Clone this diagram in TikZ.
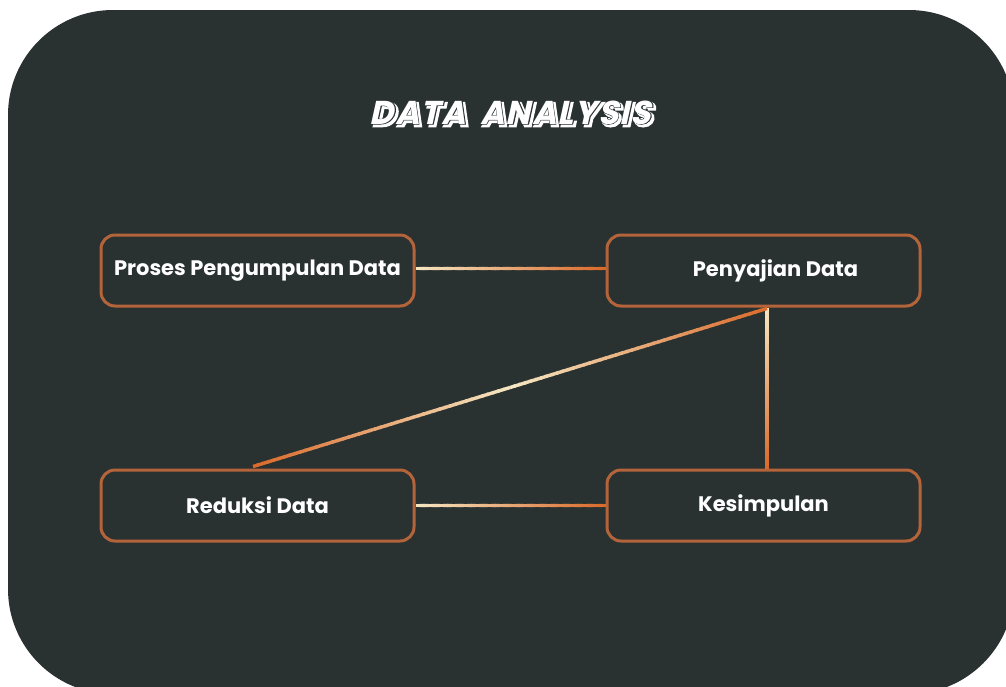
\documentclass[tikz,border=0pt]{standalone}
\usepackage{fontspec}
\setmainfont{Poppins}
\newfontfamily\titlefont[FakeSlant=0.22,LetterSpace=4]{Poppins}
\newfontfamily\titlerim[FakeSlant=0.22,FakeBold=7,LetterSpace=4]{Poppins}
\newfontfamily\titleline[FakeSlant=0.22,FakeBold=2.5,LetterSpace=4]{Poppins}
\usepackage{xcolor}
\usetikzlibrary{positioning,calc}
\definecolor{bgdark}{HTML}{2A3131}
\definecolor{boxline}{HTML}{B3643A}
\definecolor{lncream}{HTML}{F6E8C4}
\definecolor{lnorange}{HTML}{DA6A2A}
\tikzset{stage/.style={draw=boxline,line width=3pt,rounded corners=14pt,fill=bgdark,
    minimum width=313pt,minimum height=71pt,text=white,font=\bfseries\fontsize{21}{24}\selectfont},
  titletext/.style={font=\bfseries\fontsize{33}{38}\selectfont,inner sep=0pt}}
\newcommand{\fadeline}[4]{%
  \foreach \k [evaluate=\k as \t using (\k-1)/48, evaluate=\k as \u using (\k+0.3)/48,
      evaluate=\k as \p using int(100*\k/48)] in {1,...,48}
    \draw[line width=3.4pt,color=#4!\p!#3] ($(#1)!\t!(#2)$) -- ($(#1)!{min(\u,1)}!(#2)$);}

\begin{document}
\begin{tikzpicture}[x=1pt,y=-1pt]
\useasboundingbox (0,0) rectangle (1006,686);
    \fill[white] (0,0) rectangle (1006,686);
    \fill[bgdark,rounded corners=105pt] (8,10) rectangle (1014,694);

    % title: white rim + drop, dark edge, white face
    \node[titletext,text=white] (trim) at (512.5,114.5) {\titlerim DATA\hspace{6pt} ANALYSIS};
    \node[titletext,text=bgdark] (tedge) at (510.5,112.5) {\titleline DATA\hspace{6pt} ANALYSIS};
    \node[titletext,text=white] (title) at (510.5,112.5) {\titlefont DATA\hspace{6pt} ANALYSIS};

    % stages
    \node[stage] (collect) at (257.5,270.5) {Proses Pengumpulan Data};
    \node[stage] (present) at (763.5,270.5) {\hspace*{24pt}Penyajian Data};
    \node[stage] (reduce) at (257.5,505.5) {Reduksi Data};
    \node[stage] (conclude) at (763.5,505.5) {Kesimpulan};

    \coordinate (htopl) at ([yshift=2pt]collect.east);
    \coordinate (htopr) at ([yshift=2pt]present.west);
    \coordinate (vtop) at ([xshift=3.5pt]present.south);
    \coordinate (vbot) at ([xshift=3.5pt]conclude.north);
    \coordinate (dtop) at ([xshift=3.5pt,yshift=-1pt]present.south);
    \coordinate (dbot) at ([xshift=-4.5pt,yshift=2pt]reduce.north);
    \coordinate (dmid) at ($(dtop)!0.5!(dbot)$);

    \fadeline{htopl}{htopr}{lncream}{lnorange}
    \fadeline{reduce.east}{conclude.west}{lncream}{lnorange}
    \fadeline{vtop}{vbot}{lncream}{lnorange}
    \fadeline{dtop}{dmid}{lnorange}{lncream}
    \fadeline{dmid}{dbot}{lncream}{lnorange}
\end{tikzpicture}
\end{document}
